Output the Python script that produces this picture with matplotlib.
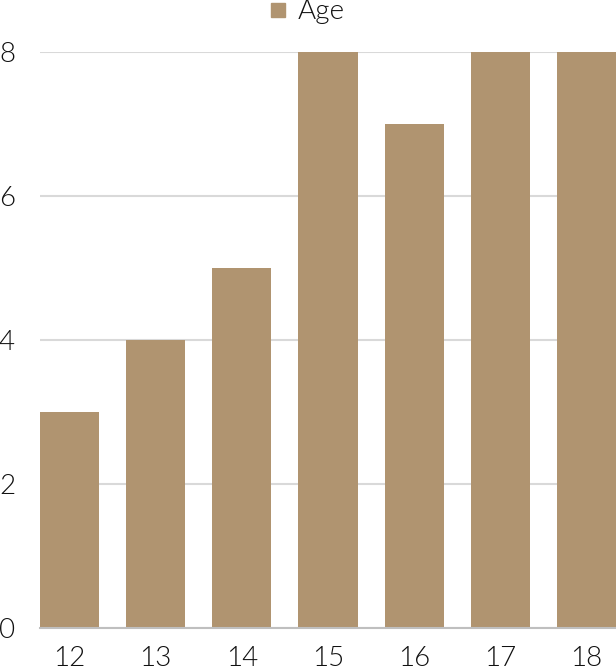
import numpy as np
import matplotlib
matplotlib.use('Agg')
import matplotlib.pyplot as plt
from matplotlib.lines import Line2D

ages = ['12', '13', '14', '15', '16', '17', '18']
counts = [3, 4, 5, 8, 7, 8, 8]

bar_color = '#b09470'
plt.rcParams['font.family'] = ['Lato', 'DejaVu Sans']
plt.rcParams['font.weight'] = 300   # Lato Light
plt.rcParams['font.size'] = 20

fig = plt.figure(figsize=(6.16, 6.72), dpi=100)
ax = fig.add_axes([40/616, 44/672, 576/616, 576/672])

x = np.arange(len(ages))
w = 0.686
ax.bar(x, counts, w, color=bar_color, zorder=3)

ax.set_xlim(-w/2, len(ages) - 1 + w/2)
ax.set_ylim(0, 8)
ax.set_yticks([0, 2, 4, 6, 8])
ax.set_xticks(x)
ax.set_xticklabels(ages)
ax.yaxis.grid(True, color='#d9d9d9', linewidth=1.5, zorder=0)

for s in ['top', 'right', 'left']:
    ax.spines[s].set_visible(False)
ax.spines['bottom'].set_color('#bfbfbf')
ax.spines['bottom'].set_linewidth(1.5)
ax.spines['bottom'].set_zorder(4)
ax.tick_params(axis='both', length=0, colors='#111111', labelsize=20)
ax.tick_params(axis='y', pad=18)
ax.tick_params(axis='x', pad=13)

handle = Line2D([], [], marker='s', linestyle='', color=bar_color, markersize=10)
leg = fig.legend([handle], ['Age'], loc='upper center', bbox_to_anchor=(0.497, 1.005),
                 frameon=False, fontsize=20, handlelength=0.8, handletextpad=0.3,
                 borderaxespad=0, borderpad=0.1)
for t in leg.get_texts():
    t.set_color('#111111')

fig.savefig('out.png', dpi=100)
